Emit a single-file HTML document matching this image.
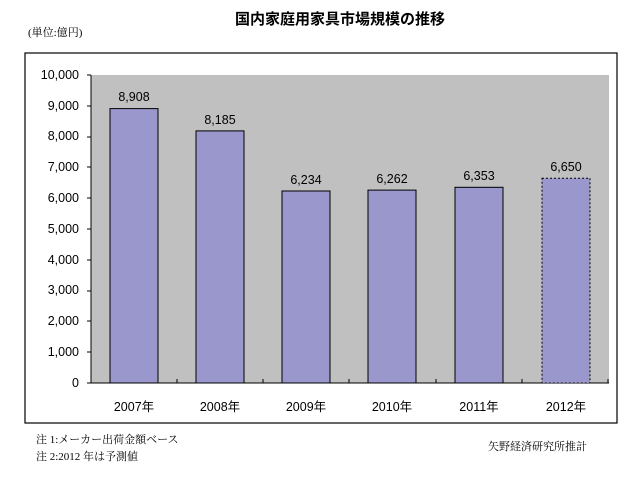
<!DOCTYPE html>
<html><head><meta charset="utf-8"><style>
body{margin:0;background:#fff;width:640px;height:476px;overflow:hidden}
svg text{font-family:"Liberation Sans","Noto Sans CJK JP",sans-serif}
.s{font-family:"Liberation Serif","Noto Serif CJK SC",serif !important}
</style></head><body>
<svg width="640" height="476" xmlns="http://www.w3.org/2000/svg">
<text x="340" y="24" font-size="15" font-weight="bold" text-anchor="middle">国内家庭用家具市場規模の推移</text>
<text x="28" y="36" font-size="11" class="s">(単位:億円)</text>
<rect x="25" y="53" width="592" height="370" fill="#fff" stroke="#000" stroke-width="1.2"/>
<rect x="91" y="75" width="518" height="308" fill="#c0c0c0"/>
<g font-size="12.5" text-anchor="end" fill="#000">
<text x="79" y="387">0</text><text x="79" y="356">1,000</text><text x="79" y="325">2,000</text><text x="79" y="294">3,000</text><text x="79" y="264">4,000</text><text x="79" y="233">5,000</text><text x="79" y="202">6,000</text><text x="79" y="171">7,000</text><text x="79" y="140">8,000</text><text x="79" y="110">9,000</text><text x="79" y="79">10,000</text>
</g>
<g stroke="#000" stroke-width="1">
<line x1="91" y1="75" x2="91" y2="383"/>
<line x1="91" y1="383" x2="609" y2="383"/>
<line x1="87" y1="383" x2="91" y2="383"/><line x1="87" y1="352" x2="91" y2="352"/><line x1="87" y1="321" x2="91" y2="321"/><line x1="87" y1="291" x2="91" y2="291"/><line x1="87" y1="260" x2="91" y2="260"/><line x1="87" y1="229" x2="91" y2="229"/><line x1="87" y1="198" x2="91" y2="198"/><line x1="87" y1="167" x2="91" y2="167"/><line x1="87" y1="137" x2="91" y2="137"/><line x1="87" y1="106" x2="91" y2="106"/><line x1="87" y1="75" x2="91" y2="75"/>
<line x1="177" y1="379" x2="177" y2="383"/><line x1="263" y1="379" x2="263" y2="383"/><line x1="349" y1="379" x2="349" y2="383"/><line x1="436" y1="379" x2="436" y2="383"/><line x1="522" y1="379" x2="522" y2="383"/><line x1="608" y1="379" x2="608" y2="383"/>
</g>
<g fill="#9a97cc" stroke="#000" stroke-width="1">
<rect x="110" y="108.6" width="48" height="274.4"/>
<rect x="196" y="130.9" width="48" height="252.1"/>
<rect x="282" y="191" width="48" height="192"/>
<rect x="368" y="190.1" width="48" height="192.9"/>
<rect x="455" y="187.3" width="48" height="195.7"/>
<rect x="542" y="178.2" width="48" height="204.8" stroke-dasharray="2,2"/>
</g>
<g font-size="12.5" text-anchor="middle">
<text x="134" y="101">8,908</text><text x="220" y="124">8,185</text><text x="306" y="184">6,234</text><text x="392" y="183">6,262</text><text x="479" y="180">6,353</text><text x="566" y="171">6,650</text>
</g>
<g font-size="12.5" text-anchor="middle">
<text x="134" y="411">2007年</text><text x="220" y="411">2008年</text><text x="306" y="411">2009年</text><text x="392" y="411">2010年</text><text x="479" y="411">2011年</text><text x="566" y="411">2012年</text>
</g>
<text x="36" y="443" font-size="11" class="s">注 1:メーカー出荷金額ベース</text>
<text x="36" y="460" font-size="11" class="s">注 2:2012 年は予測値</text>
<text x="488" y="450" font-size="11" class="s">矢野経済研究所推計</text>
</svg>
</body></html>
